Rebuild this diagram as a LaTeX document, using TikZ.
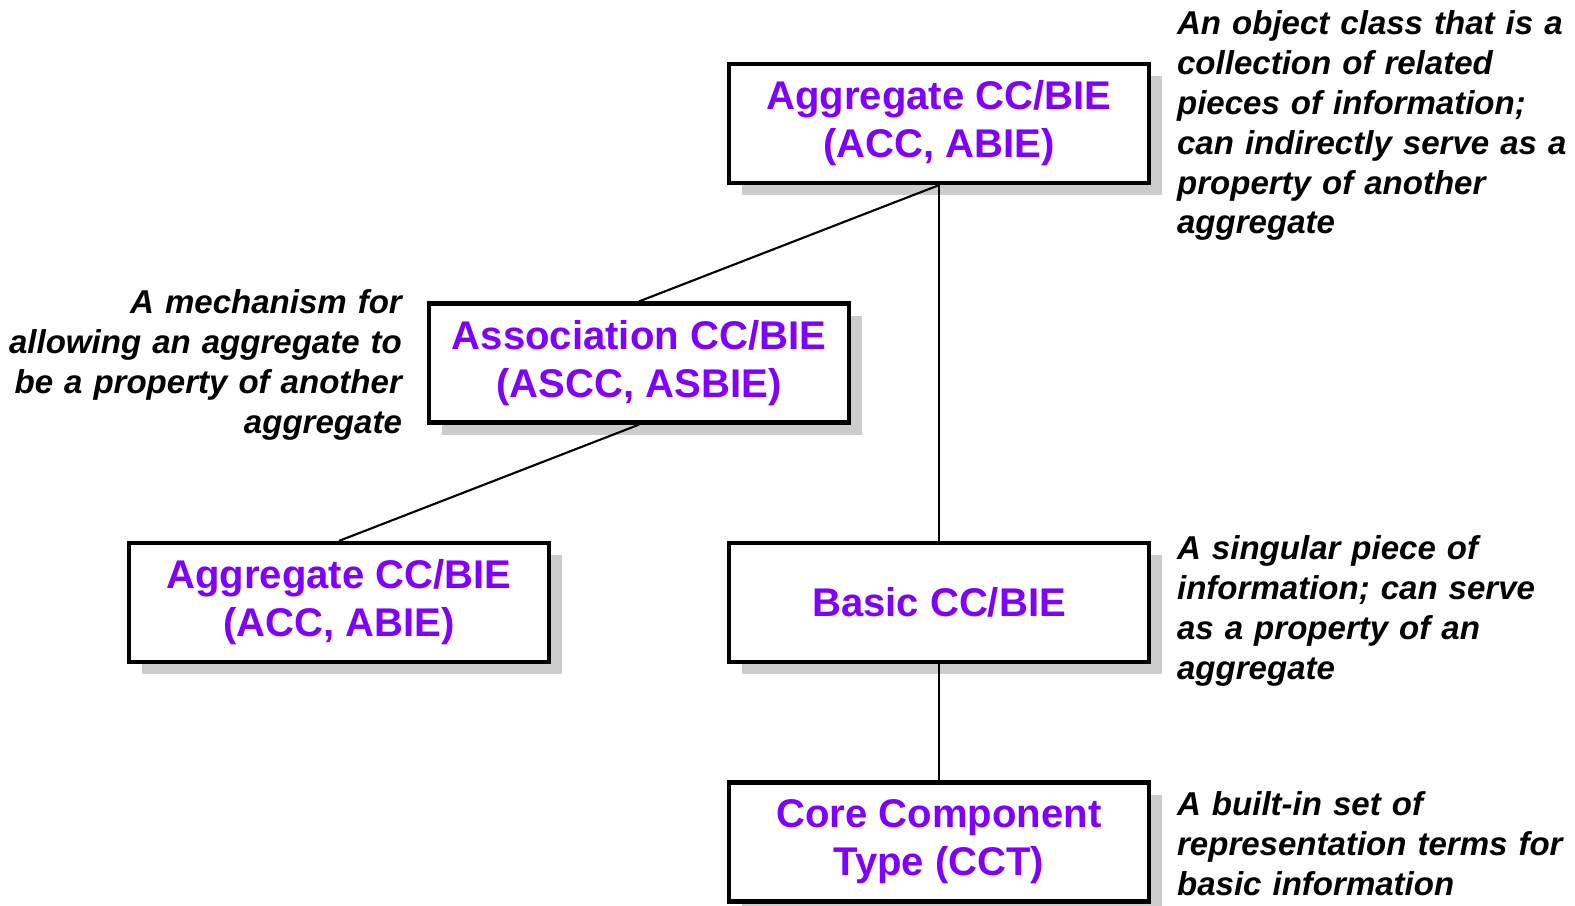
\documentclass[tikz,border=0pt]{standalone}
\usepackage{fontspec}
\setmainfont{Liberation Sans}
\usetikzlibrary{shadows}
\definecolor{ccpurple}{RGB}{128,0,255}

\begin{document}
\begin{tikzpicture}[very thick,
	block/.style ={rectangle, draw=black, very thick, fill=white, text=ccpurple, align=center,
		minimum width=4.2cm, minimum height=1.19cm, inner sep=0pt,
		font=\bfseries\fontsize{11.4}{13.6}\selectfont,
		drop shadow={shadow xshift=0.13cm, shadow yshift=-0.12cm, fill=black!20, opacity=1}},
	note/.style ={inner sep=0pt, text width=4.1cm, font=\bfseries\itshape\fontsize{9.4}{11.38}\selectfont}]
		\useasboundingbox (0,0) rectangle (15.75,-9.05);
		\node[block] (n1) at (9.39,-1.235) {Aggregate CC/BIE\\(ACC, ABIE)};
		\node[block] (n2) at (6.39,-3.63) {Association CC/BIE\\(ASCC, ASBIE)};
		\node[block] (n3) at (3.39,-6.025) {Aggregate CC/BIE\\(ACC, ABIE)};
		\node[block] (n4) at (9.39,-6.025) {Basic CC/BIE};
		\node[block] (n5) at (9.39,-8.42) {Core Component\\Type (CCT)};
		\node[note, anchor=base west, align=left] (t1) at (11.75,-0.34) {An object class that is a\\collection of related\\pieces of information;\\can indirectly serve as a\\property of another\\aggregate};
		\node[note, anchor=base east, align=right] (t2) at (4.04,-3.13) {A mechanism for\\allowing an aggregate to\\be a property of another\\aggregate};
		\node[note, anchor=base west, align=left] (t3) at (11.75,-5.59) {A singular piece of\\information; can serve\\as a property of an\\aggregate};
		\node[note, anchor=base west, align=left] (t4) at (11.75,-8.15) {A built-in set of\\representation terms for\\basic information};
		\draw[semithick] (n1.south)--(n2.north);
		\draw[semithick] (n1.south)--(n4.north);
		\draw[semithick] (n2.south)--(n3.north);
		\draw[semithick] (n4.south)--(n5.north);
	\end{tikzpicture}
\end{document}
